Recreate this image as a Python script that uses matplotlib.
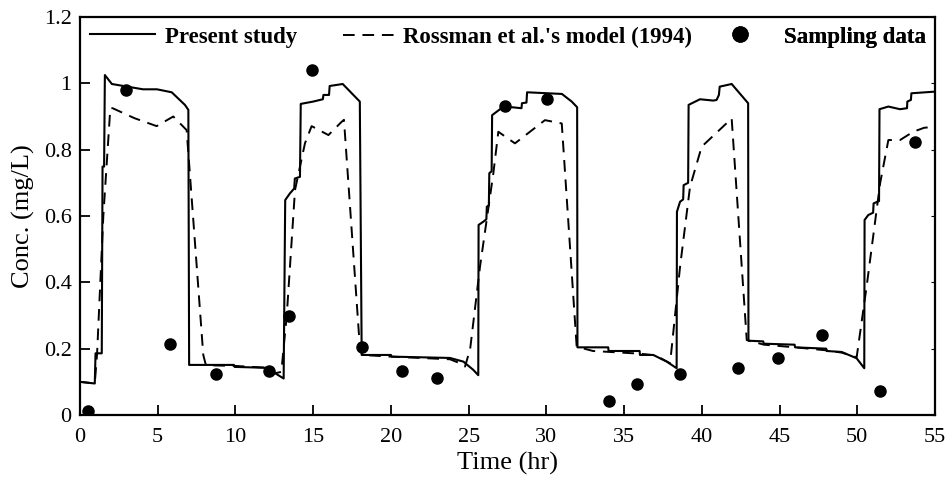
import matplotlib
matplotlib.use("Agg")
import matplotlib.pyplot as plt
import numpy as np

# Present study (solid)
present_t = [0.0, 0.95, 1.0, 1.05, 1.4, 1.45, 1.55, 1.6, 2.05, 4.05, 4.95, 5.9, 6.75, 6.97, 7.02,
             9.9, 9.95, 12.2, 12.55, 13.1, 13.2, 13.5, 13.78, 13.82, 14.15, 14.2, 15.0, 15.62,
             15.66, 16.02, 16.06, 16.9, 18.0, 18.12, 20.0, 20.05, 23.8, 24.66, 25.3, 25.62, 25.64,
             25.95, 26.14, 26.17, 26.3, 26.33, 26.48, 26.51, 27.02, 27.77, 28.4, 28.43, 28.72,
             28.76, 31.0, 31.63, 31.98, 32.0, 33.98, 34.0, 36.0, 36.02, 36.88, 37.74, 38.38, 38.4,
             38.6, 38.8, 38.83, 39.12, 39.15, 39.88, 40.74, 40.95, 41.1, 41.15, 41.92, 42.98,
             43.0, 43.95, 43.98, 45.97, 46.0, 48.0, 48.03, 49.0, 49.96, 50.45, 50.47, 50.71,
             51.02, 51.05, 51.4, 51.43, 52.0, 52.75, 53.2, 53.22, 53.45, 53.48, 55.0]
present_c = [0.100, 0.095, 0.186, 0.186, 0.186, 0.749, 0.749, 1.025, 0.998, 0.982, 0.982, 0.973,
             0.935, 0.920, 0.151, 0.151, 0.145, 0.142, 0.126, 0.110, 0.648, 0.668, 0.683, 0.713,
             0.718, 0.938, 0.945, 0.952, 0.965, 0.965, 0.992, 0.998, 0.945, 0.181, 0.181, 0.176,
             0.172, 0.161, 0.136, 0.120, 0.573, 0.583, 0.590, 0.628, 0.632, 0.729, 0.735, 0.904,
             0.922, 0.928, 0.925, 0.940, 0.942, 0.973, 0.968, 0.945, 0.928, 0.204, 0.204, 0.193,
             0.193, 0.181, 0.181, 0.161, 0.141, 0.613, 0.643, 0.650, 0.693, 0.700, 0.935, 0.952,
             0.948, 0.950, 0.965, 0.990, 0.998, 0.940, 0.224, 0.222, 0.215, 0.212, 0.204, 0.200,
             0.193, 0.190, 0.171, 0.141, 0.588, 0.603, 0.610, 0.638, 0.645, 0.922, 0.930, 0.922,
             0.925, 0.945, 0.950, 0.970, 0.975]

# Rossman et al.'s model (dashed)
rossman_t = [0.0, 0.95, 1.1, 1.5, 1.95, 2.1, 3.5, 4.93, 6.0, 6.86, 7.93, 8.1, 10.0, 12.2, 12.55,
             12.95, 13.3, 13.83, 14.47, 14.9, 15.98, 16.83, 16.98, 18.0, 18.15, 20.0, 23.8, 24.5,
             24.77, 25.1, 25.73, 26.16, 26.59, 26.91, 27.98, 29.91, 30.99, 31.95, 33.0, 36.0,
             37.0, 37.96, 38.6, 39.24, 39.99, 41.92, 42.89, 44.0, 46.0, 48.0, 49.0, 49.96, 50.6,
             51.47, 52.0, 52.75, 53.6, 54.3, 55.0]
rossman_c = [0.100, 0.095, 0.186, 0.600, 0.925, 0.925, 0.895, 0.871, 0.900, 0.859, 0.181, 0.150,
             0.148, 0.142, 0.126, 0.130, 0.300, 0.678, 0.819, 0.871, 0.844, 0.884, 0.890, 0.206,
             0.181, 0.176, 0.168, 0.155, 0.146, 0.200, 0.447, 0.588, 0.729, 0.854, 0.819, 0.889,
             0.879, 0.206, 0.193, 0.185, 0.180, 0.156, 0.447, 0.688, 0.809, 0.894, 0.226, 0.212,
             0.204, 0.195, 0.188, 0.174, 0.387, 0.699, 0.829, 0.829, 0.854, 0.866, 0.869]

# Sampling data (dots)
sample_t = [0.54, 2.96, 5.79, 8.73, 12.18, 13.45, 14.9, 18.12, 20.69, 22.94, 27.34, 30.02,
            34.05, 35.81, 38.6, 42.35, 44.88, 47.71, 51.46, 53.71]
sample_c = [0.012, 0.980, 0.213, 0.124, 0.133, 0.300, 1.040, 0.204, 0.133, 0.113, 0.933, 0.952,
            0.043, 0.092, 0.124, 0.143, 0.173, 0.241, 0.072, 0.822]

x_ticks = [0, 5, 10, 15, 20, 25, 30, 35, 40, 45, 50, 55]
y_ticks = [0, 0.2, 0.4, 0.6, 0.8, 1.0, 1.2]
y_tick_labels = ["0", "0.2", "0.4", "0.6", "0.8", "1", "1.2"]

plt.rcParams['font.family'] = ['Liberation Serif', 'DejaVu Serif']

fig = plt.figure(figsize=(9.5, 4.79), dpi=100)
ax = fig.add_axes([80/950, 1 - 415/479, 855/950, 398/479])

h1, = ax.plot(present_t, present_c, color='black', lw=1.5, label='Present study')
h2, = ax.plot(rossman_t, rossman_c, color='black', lw=1.4, linestyle=(0, (6, 4)),
              label="Rossman et al.'s model (1994)")
h3, = ax.plot(sample_t, sample_c, linestyle='none', marker='o', color='black', markersize=8,
              label='Sampling data')

ax.set_xlim(0, 55)
ax.set_ylim(0, 1.2)
ax.set_xticks(x_ticks)
ax.set_yticks(y_ticks)
ax.set_yticklabels(y_tick_labels)
ax.tick_params(axis='both', direction='in', length=7, width=1.3, labelsize=16, pad=6)
ax.tick_params(axis='y', right=True, which='major')
ax.tick_params(axis='x', pad=9)
for t in ax.yaxis.get_major_ticks():
    t.tick2line.set_markersize(3)
    t.tick2line.set_markeredgewidth(0.8)
for s in ax.spines.values():
    s.set_linewidth(1.6)

ax.set_xlabel('Time (hr)', fontsize=19, labelpad=4)
ax.set_ylabel('Conc. (mg/L)', fontsize=19, labelpad=6)

W, H = 855.0, 398.0
ycen = (415 - 37) / H
prop = {'weight': 'bold', 'size': 16.5}
fs_px = 16.5 * 100 / 72.0

def add_leg(handle, x_px, hl_px, pad_px):
    lg = ax.legend(handles=[handle], loc='center left',
                   bbox_to_anchor=((x_px - 80) / W, ycen), frameon=False, prop=prop,
                   handlelength=hl_px / fs_px, handletextpad=pad_px / fs_px,
                   borderpad=0, borderaxespad=0, markerscale=1.35)
    ax.add_artist(lg)
    return lg

add_leg(h1, 90, 65, 10)
add_leg(h2, 343, 54, 6)
add_leg(h3, 706, 68, 10)

fig.savefig('out.png', dpi=100)
